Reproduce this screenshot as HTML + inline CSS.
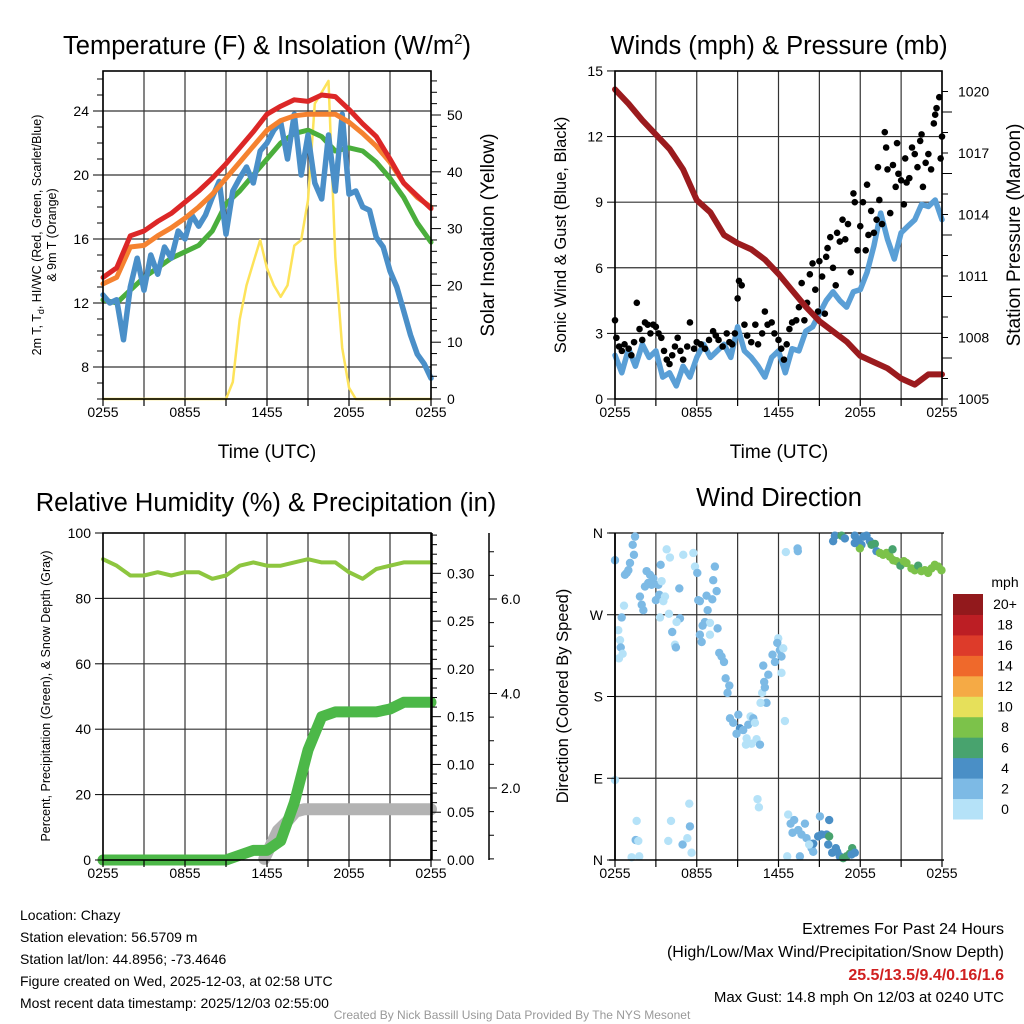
<!DOCTYPE html>
<html><head><meta charset="utf-8">
<style>
html,body{margin:0;padding:0;background:#fff;}
svg{display:block;font-family:"Liberation Sans",Arial,sans-serif;}
</style></head>
<body>
<svg id="c" width="1024" height="1024" viewBox="0 0 1024 1024" xmlns="http://www.w3.org/2000/svg">
<rect width="1024" height="1024" fill="#fff"/>
<g id="g1"></g>
<g id="g2"></g>
<g id="g3"></g>
<g id="g4"></g>

<text x="267" y="54" font-size="25.5" text-anchor="middle">Temperature (F) &amp; Insolation (W/m<tspan font-size="15" dy="-10">2</tspan><tspan dy="10">)</tspan></text>
<text x="779" y="54" font-size="25.5" text-anchor="middle">Winds (mph) &amp; Pressure (mb)</text>
<text x="266" y="511" font-size="25.5" text-anchor="middle">Relative Humidity (%) &amp; Precipitation (in)</text>
<text x="779" y="506" font-size="25.5" text-anchor="middle">Wind Direction</text>

<text x="267" y="458" font-size="19" text-anchor="middle">Time (UTC)</text>
<text x="779" y="458" font-size="19" text-anchor="middle">Time (UTC)</text>

<text transform="translate(41,235) rotate(-90)" font-size="12.5" text-anchor="middle">2m T, T<tspan font-size="9" dy="3">d</tspan><tspan dy="-3">, HI/WC (Red, Green, Scarlet/Blue)</tspan></text>
<text transform="translate(56,235) rotate(-90)" font-size="12.5" text-anchor="middle">&amp; 9m T (Orange)</text>
<text transform="translate(494,235) rotate(-90)" font-size="19" text-anchor="middle">Solar Insolation (Yellow)</text>
<text transform="translate(566,235) rotate(-90)" font-size="16.5" text-anchor="middle">Sonic Wind &amp; Gust (Blue, Black)</text>
<text transform="translate(1020,235) rotate(-90)" font-size="19" text-anchor="middle">Station Pressure (Maroon)</text>
<text transform="translate(50,696) rotate(-90)" font-size="12.5" text-anchor="middle">Percent, Precipitation (Green), &amp; Snow Depth (Gray)</text>
<text transform="translate(568,696) rotate(-90)" font-size="16.5" text-anchor="middle">Direction (Colored By Speed)</text>

<g font-size="14">
<text x="20" y="920">Location: Chazy</text>
<text x="20" y="942">Station elevation: 56.5709 m</text>
<text x="20" y="964">Station lat/lon: 44.8956; -73.4646</text>
<text x="20" y="986">Figure created on Wed, 2025-12-03, at 02:58 UTC</text>
<text x="20" y="1008">Most recent data timestamp: 2025/12/03 02:55:00</text>
</g>
<g text-anchor="end">
<text x="1004" y="934" font-size="16">Extremes For Past 24 Hours</text>
<text x="1004" y="957" font-size="16">(High/Low/Max Wind/Precipitation/Snow Depth)</text>
<text x="1004" y="980" font-size="16" font-weight="bold" fill="#d02020">25.5/13.5/9.4/0.16/1.6</text>
<text x="1004" y="1002" font-size="15">Max Gust: 14.8 mph On 12/03 at 0240 UTC</text>
</g>
<text x="512" y="1019" font-size="12" fill="#999" text-anchor="middle">Created By Nick Bassill Using Data Provided By The NYS Mesonet</text>
</svg>
<script>
const NS="http://www.w3.org/2000/svg";
// ---------- DATA ----------
const xTickLabels=["0255","0855","1455","2055","0255"];
const hourly=[0,1,2,3,4,5,6,7,8,9,10,11,12,13,14,15,16,17,18,19,20,21,22,23,24];
const tempRed=[13.6,14.2,16.2,16.5,17.1,17.6,18.3,19.0,19.8,20.7,21.7,22.7,23.8,24.3,24.7,24.6,25.0,24.9,24.1,23.2,22.4,21.0,19.5,18.7,17.9];
const tempOrange=[13.2,13.6,15.5,15.6,16.2,16.7,17.3,18.0,18.8,19.8,20.8,21.8,22.8,23.4,23.7,23.8,23.8,23.8,23.3,22.6,21.8,20.8,19.5,18.6,18.0];
const tempGreen=[12.2,12.0,12.8,13.6,14.2,14.8,15.2,15.6,16.5,18.2,19.0,20.0,21.0,22.0,22.6,22.8,22.4,21.5,21.7,21.5,20.8,19.8,18.6,17.0,15.8];
const tempBlue=[12.5,12.0,12.2,9.7,13.0,14.8,12.8,15.0,13.8,15.5,14.8,16.5,16.0,17.5,16.8,17.5,18.6,19.6,16.3,19.0,19.8,20.5,19.5,21.5,22.0,22.8,23.3,21.0,23.8,20.0,22.5,19.5,18.5,22.5,19.0,23.8,18.8,19.0,18.0,17.8,16.1,15.5,14.0,13.0,11.5,10.0,8.8,8.2,7.3];
const insolation=[0,0,0,0,0,0,0,0,0,0,0,0,0,0,0,0,0,0,0,3,14,20,24,28,23,20,18,20,27,28,35,52,54,56,25,9,2,0,0,0,0,0,0,0,0,0,0,0,0];
const tempTicks=[8,12,16,20,24];
const insTicks=[0,10,20,30,40,50];
const pressure=[1020.1,1019.4,1018.6,1017.9,1017.2,1016.2,1014.7,1014.1,1013.0,1012.6,1012.3,1011.8,1011.1,1010.3,1009.5,1008.8,1008.3,1007.8,1007.1,1006.8,1006.5,1006.0,1005.7,1006.2,1006.2];
const windSpeed=[2.0,1.2,2.3,1.5,2.5,1.9,2.2,1.0,1.2,0.6,1.5,1.0,1.9,2.5,1.9,2.2,2.5,1.9,3.3,2.2,1.9,1.5,1.0,1.9,2.2,1.2,2.3,2.2,3.1,3.3,3.9,4.5,4.9,4.5,4.2,4.9,5.0,5.8,7.0,8.5,7.3,6.4,7.6,7.9,8.2,8.9,8.8,9.1,8.2];
const gustHour=[0,0.1,0.3,0.5,0.7,1.0,1.2,1.4,1.6,1.8,2.0,2.2,2.4,2.6,2.8,3.0,3.2,3.4,3.6,3.8,4.0,4.2,4.4,4.6,4.8,5.0,5.3,5.5,5.8,6.0,6.3,6.6,6.9,7.2,7.4,7.6,7.9,8.2,8.4,8.6,8.8,9.0,9.1,9.3,9.5,9.7,10.0,10.3,10.5,10.8,11.0,11.2,11.5,11.7,12.0,12.2,12.4,12.6,12.8,13.0,13.3,13.5,13.7,13.9,14.1,14.3,14.5,14.7,14.9,15.0,15.2,15.4,15.6,15.8,16.0,16.2,16.5,16.7,16.9,17.1,17.3,17.5,17.6,17.8,18.0,18.2,18.4,18.6,18.8,19.0,19.2,19.4,19.6,19.8,19.9,20.0,20.2,20.4,20.6,20.8,21.0,21.2,21.4,21.6,21.8,22.0,22.2,22.4,22.6,22.8,23.0,23.2,23.4,23.6,23.8,24.0,23.9,23.5,22.5,21.3,20.7,19.3,18.5,16.3,15.5];
const gustSpeed=[3.6,2.8,2.4,2.2,2.5,2.3,2.0,2.6,4.4,3.2,2.7,3.5,3.4,3.0,3.4,3.3,3.0,2.8,2.2,1.8,1.6,2.0,2.4,2.8,2.2,1.8,2.4,3.5,2.3,2.6,2.5,2.3,2.7,3.1,2.9,2.7,2.4,3.0,2.6,2.5,3.0,4.6,5.4,5.2,3.4,2.9,2.6,3.4,2.5,3.0,4.0,3.4,3.5,3.0,2.7,2.3,1.8,2.5,3.2,3.5,3.6,4.2,5.3,3.6,4.4,5.7,6.2,5.0,4.0,6.3,5.6,3.9,6.9,7.4,6.0,5.2,7.2,8.2,7.3,8.0,5.8,9.4,9.0,6.8,7.9,9.0,6.8,7.5,8.6,7.6,8.2,9.1,8.0,12.2,11.5,10.5,8.5,10.7,9.7,10.3,10.0,8.9,9.9,10.1,11.5,11.2,10.6,11.8,9.7,10.8,11.2,10.5,12.6,13.3,13.8,12.0,11.0,13.0,12.1,11.0,11.7,10.6,9.8,7.6,6.5];
const windTicks=[0,3,6,9,12,15];
const pressTicks=[1005,1008,1011,1014,1017,1020];
const humidity=[92,90,87,87,88,87,88,88,86,87,90,91,90,90,91,92,91,91,88,86,89,90,91,91,91];
const precip=[0,0,0,0,0,0,0,0,0,0,0.005,0.01,0.01,0.02,0.06,0.115,0.15,0.155,0.155,0.155,0.155,0.158,0.165,0.165,0.165];
const snowHour=[11.8,12.3,12.8,13.5,14.1,14.7,16,17,18,19,20,21,22,23,24];
const snowDepth=[0.5,0.8,1.1,1.3,1.5,1.55,1.55,1.55,1.55,1.55,1.55,1.55,1.55,1.55,1.55];
const rhTicks=[0,20,40,60,80,100];
const precipTicks=[0,0.05,0.10,0.15,0.20,0.25,0.30];
const snowTicks=[2,4,6];
const dirHour=[0,1.47,1.3,1.39,1.1,0.86,0.98,0.73,2.32,2.57,2.81,2.44,2.2,2.69,3.18,3.42,3.35,3.79,4.03,5.01,5.75,5.87,6.04,7.33,7.21,7.46,4.72,3.25,3.0,3.67,3.55,1.83,1.96,2.08,0.66,0.49,0.24,0.37,0.42,0.56,0.29,3.96,3.3,4.77,4.52,4.2,4.4,4.47,6.11,6.23,6.72,7.14,6.8,6.6,6.97,7.53,6.43,6.23,6.36,6.97,7.65,7.82,8.0,8.12,8.39,8.26,8.44,9.05,8.68,9.17,8.92,9.41,9.78,9.95,10.15,10.27,9.66,10.02,10.39,10.64,9.61,11.12,10.68,10.8,11.0,10.95,11.25,10.88,11.56,11.74,11.98,11.91,12.1,12.35,12.22,12.22,12.47,12.54,13.4,13.42,0,1.59,1.52,1.71,1.22,1.78,4.11,3.91,4.96,5.31,5.62,5.45,5.5,10.46,10.56,12.71,12.89,13.15,13.03,13.45,13.69,13.94,14.06,14.3,14.43,14.55,14.55,14.91,15.04,15.16,15.53,15.72,15.72,15.65,15.94,16.31,16.5,16.75,16.99,17.24,17.41,17.6,17.36,12.64,13.57,14.25,16.21,16.14,16.01,16.63,16.87,17.6,17.85,18.09,18.22,18.46,18.7,18.83,19.07,19.19,19.44,19.68,19.93,20.17,20.37,20.42,20.66,20.9,20.95,21.2,21.39,21.76,22.0,22.25,22.49,22.74,22.98,23.23,23.47,23.72,23.96,17.97,17.6];
const dirDeg=[330,356,347,336,327,316,319,314,318,314,310,305,301,303,303,307,325,342,333,336,338,323,316,323,308,296,299,292,286,290,285,290,281,275,280,267,253,242,234,227,222,271,267,266,262,251,237,234,286,285,291,287,275,262,261,255,258,248,240,248,228,224,218,200,192,184,156,160,151,145,139,143,149,158,156,151,134,128,133,127,127,173,173,184,190,196,204,214,226,218,244,239,231,233,224,206,153,339,343,340,88,43,22,21,3,4,43,21,17,24,8,62,37,67,58,50,40,44,30,33,28,40,24,18,13,9,18,26,48,28,28,44,26,17,8,9,4,2,4,7,13,8,6,4,4,17,13,357,351,357,354,357,352,347,356,357,351,347,348,340,338,336,338,334,342,330,329,327,324,329,327,321,319,324,318,319,316,321,325,323,319,343,349];
const dirSpeed=[3,3,3,3,3,3,3,3,3,3,3,3,3,3,3,1,3,1,1,1,1,1,3,3,3,3,3,3,3,1,1,3,3,3,1,3,1,1,3,1,1,1,1,3,1,3,1,3,3,3,3,3,3,3,1,3,3,3,3,1,3,3,3,3,3,3,3,3,3,5,3,3,3,1,3,1,1,1,1,3,1,3,1,1,3,3,3,3,3,3,1,3,3,1,3,1,1,1,3,3,1,1,3,1,1,1,1,1,3,1,1,1,3,1,1,1,3,3,3,3,3,3,3,3,3,3,5,5,3,5,5,5,7,5,5,5,5,7,7,7,7,5,5,1,3,1,5,5,5,7,5,5,5,5,5,5,5,7,7,5,9,9,9,9,7,9,9,9,7,9,9,9,9,7,9,9,9,9,9,9,9,9,5,5];
const dirLabels=["N","E","S","W","N"];
const cbLabels=["0","2","4","6","8","10","12","14","16","18","20+"];
const cbColors=["#b5e2f8","#7dbae5","#4a8fc6","#48a36e","#7cc24a","#e6e05a","#f5aa45","#ef692b","#dd3b2a","#bc1e24","#92191c"];

// ---------- helpers ----------
function el(parent,tag,attrs){const e=document.createElementNS(NS,tag);for(const k in attrs)e.setAttribute(k,attrs[k]);parent.appendChild(e);return e;}
function frame(g,x0,x1,y0,y1,hLines){
  for(let i=0;i<=8;i++){const x=x0+(x1-x0)*i/8;
    const l=el(g,'line',{x1:x,x2:x,y1:y0,y2:y1,stroke:'#333','stroke-width':1.2});
    
    }
  hLines.forEach(y=>{const l=el(g,'line',{x1:x0,x2:x1,y1:y,y2:y,stroke:'#333','stroke-width':1.2});
    
    });
}
function border(g,x0,x1,y0,y1){const r=el(g,'rect',{x:x0,y:y0,width:x1-x0,height:y1-y0,fill:'none',stroke:'#000','stroke-width':1.6});
  
  }
function xTicks(g,x0,x1,y){
  for(let i=0;i<=8;i++){const x=x0+(x1-x0)*i/8;el(g,'line',{x1:x,x2:x,y1:y,y2:y+7,stroke:'#000','stroke-width':1.2});}
  xTickLabels.forEach((t,i)=>{const x=x0+(x1-x0)*i/4;const tx=el(g,'text',{x:x,y:y+18,'font-size':14,'text-anchor':'middle'});tx.textContent=t;
    
    });
}
function poly(g,xs,ys,color,w,name){
  const d=xs.map((x,i)=>(i?'L':'M')+x.toFixed(1)+','+ys[i].toFixed(1)).join('');
  const p=el(g,'path',{d:d,fill:'none',stroke:color,'stroke-width':w,'stroke-linejoin':'round','stroke-linecap':'round'});
  
  
  return p;
}
function label(g,x,y,t,anchor,fs){const tx=el(g,'text',{x:x,y:y,'font-size':fs||14,'text-anchor':anchor});tx.textContent=t;
  
  }

// ---------- panel 1 ----------
(function(){
 const g=document.getElementById('g1');const X0=103,X1=431,Y0=71,Y1=399;
 const sx=h=>X0+(X1-X0)*h/24, sy=t=>367-(t-8)*16, sw=w=>399-w*5.68;
 frame(g,X0,X1,Y0,Y1,tempTicks.map(sy));
 const half=tempBlue.map((_,i)=>i/2);
 poly(g,half.map(sx),insolation.map(sw),'#fde35a',2.5,'insolation-line');
 poly(g,hourly.map(sx),tempGreen.map(sy),'#4aae3c',5,'dewpoint-line');
 poly(g,half.map(sx),tempBlue.map(sy),'#4a8fc8',5.5,'heat-index-wind-chill-line');
 poly(g,hourly.map(sx),tempOrange.map(sy),'#f58230',5,'9m-temperature-line');
 poly(g,hourly.map(sx),tempRed.map(sy),'#dc2727',5,'2m-temperature-line');
 border(g,X0,X1,Y0,Y1);
 for(let t=6;t<=26;t++){el(g,'line',{x1:X0-(t%4==0?10:6),x2:X0,y1:sy(t),y2:sy(t),stroke:'#000'});}
 tempTicks.forEach(t=>label(g,X0-14,sy(t)+5,String(t),'end'));
 for(let w=0;w<=56;w+=2){el(g,'line',{x1:X1,x2:X1+(w%10==0?10:6),y1:sw(w),y2:sw(w),stroke:'#000'});}
 insTicks.forEach(w=>label(g,X1+16,sw(w)+5,String(w),'start'));
 xTicks(g,X0,X1,Y1);
})();

// ---------- panel 2 ----------
(function(){
 const g=document.getElementById('g2');const X0=615,X1=942,Y0=71,Y1=399;
 const sx=h=>X0+(X1-X0)*h/24, sy=v=>399-v*21.87, sp=p=>399-(p-1005)*20.5;
 frame(g,X0,X1,Y0,Y1,windTicks.slice(1,5).map(sy));
 const half=windSpeed.map((_,i)=>i/2);
 poly(g,half.map(sx),windSpeed.map(sy),'#5a9fd6',5.5,'sonic-wind-line');
 gustHour.forEach((h,i)=>{const c=el(g,'circle',{cx:sx(h),cy:sy(gustSpeed[i]),r:3.3,fill:'#000'});
   
   });
 poly(g,hourly.map(sx),pressure.map(sp),'#9b1b1e',6,'pressure-line');
 border(g,X0,X1,Y0,Y1);
 windTicks.forEach(v=>{el(g,'line',{x1:X0-8,x2:X0,y1:sy(v),y2:sy(v),stroke:'#000'});label(g,X0-12,sy(v)+5,String(v),'end');});
 for(let p=1005;p<=1020;p++){el(g,'line',{x1:X1,x2:X1+(p%3==2?10:6),y1:sp(p),y2:sp(p),stroke:'#000'});}
 pressTicks.forEach(p=>label(g,X1+16,sp(p)+5,String(p),'start'));
 xTicks(g,X0,X1,Y1);
})();

// ---------- panel 3 ----------
(function(){
 const g=document.getElementById('g3');const X0=103,X1=431,Y0=533,Y1=860;
 const sx=h=>X0+(X1-X0)*h/24, sr=r=>860-r*3.27, spp=p=>860-p*955.6, ss=s=>882.5-s*47.25;
 frame(g,X0,X1,Y0,Y1,rhTicks.slice(1,5).map(sr));
 poly(g,snowHour.map(sx),snowDepth.map(s=>Math.min(860,ss(s))),'#b3b3b3',12,'snow-depth-line');
 poly(g,hourly.map(sx),precip.map(spp),'#4cb848',11,'precipitation-line');
 poly(g,hourly.map(sx),humidity.map(sr),'#8dc63f',4,'humidity-line');
 border(g,X0,X1,Y0,Y1);
 rhTicks.forEach(r=>{el(g,'line',{x1:X0-8,x2:X0,y1:sr(r),y2:sr(r),stroke:'#000'});label(g,X0-12,sr(r)+5,String(r),'end');});
 el(g,'line',{x1:X1+1,x2:X1+1,y1:Y0,y2:Y1,stroke:'#000','stroke-width':1.5});
 for(let k=0;k<=34;k++){const p=k/100;el(g,'line',{x1:X1,x2:X1+(k%5==0?10:6),y1:spp(p),y2:spp(p),stroke:'#000'});}
 precipTicks.forEach(p=>label(g,X1+16,spp(p)+5,p.toFixed(2),'start'));
 const ax=489;
 const a=el(g,'line',{x1:ax,x2:ax,y1:Y0,y2:Y1,stroke:'#000','stroke-width':1.5});
 
 
 for(let k=0;k<=14;k++){const s=k/2;const y=ss(s);if(y<Y0||y>Y1)continue;el(g,'line',{x1:ax,x2:ax+(k%4==0?8:5),y1:y,y2:y,stroke:'#000'});}
 snowTicks.forEach(s=>label(g,ax+12,ss(s)+5,s.toFixed(1),'start'));
 xTicks(g,X0,X1,Y1);
})();

// ---------- panel 4 ----------
(function(){
 const g=document.getElementById('g4');const X0=615,X1=942,Y0=533,Y1=860;
 const sx=h=>X0+(X1-X0)*h/24, sd=d=>860-d*(Y1-Y0)/360;
 frame(g,X0,X1,Y0,Y1,[90,180,270].map(sd));
 el(g,'line',{x1:X0-6,x2:X1+2,y1:Y0,y2:Y0,stroke:'#000','stroke-width':1.2});
 dirHour.forEach((h,i)=>{const s=dirSpeed[i];const c=el(g,'circle',{cx:sx(h),cy:sd(dirDeg[i]),r:4.2,fill:cbColors[Math.min(10,Math.floor(s/2))]});
   
   });
 [0,90,180,270,360].forEach((d,i)=>{el(g,'line',{x1:X0-8,x2:X0,y1:sd(d),y2:sd(d),stroke:'#000'});label(g,X0-12,sd(d)+5,dirLabels[i],'end');});
 el(g,'line',{x1:X0,x2:X0,y1:Y0,y2:Y1,stroke:'#000','stroke-width':1.8});
 el(g,'line',{x1:X0-6,x2:X1+2,y1:Y1,y2:Y1,stroke:'#000','stroke-width':1.6});
 xTicks(g,X0,X1,Y1);
 const cb=el(g,'g',{});
 
 
 const cy0=594,ch=225/11;
 cbColors.forEach((c,i)=>{const y=cy0+ch*(10-i);const r=el(cb,'rect',{x:953,y:y,width:30,height:ch+0.5,fill:c});
   
   
   const t=el(cb,'text',{x:1005,y:y+ch/2+5,'font-size':14,'text-anchor':'middle'});t.textContent=cbLabels[i];
   
   });
 const m=el(cb,'text',{x:1005,y:587,'font-size':14,'text-anchor':'middle'});m.textContent='mph';
 
 
})();
</script>
</body></html>
